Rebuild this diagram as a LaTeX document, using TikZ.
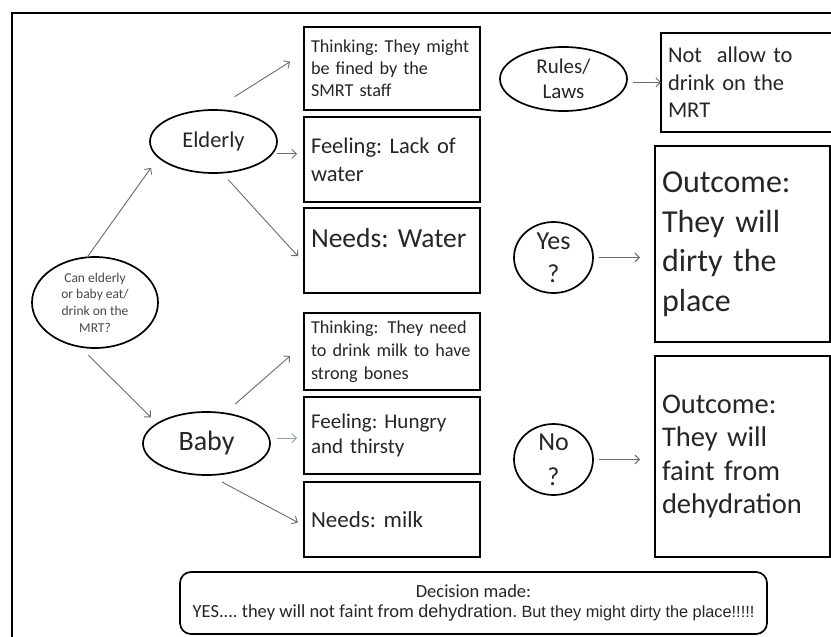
\documentclass[tikz,border=0pt]{standalone}
\usepackage{fontspec}
\setmainfont{Carlito}
\newfontfamily\arialfont{Liberation Sans}
\usetikzlibrary{arrows.meta,shapes.geometric}
\definecolor{ink}{HTML}{262626}
\definecolor{softink}{HTML}{484848}
\definecolor{wire}{HTML}{6B6B6B}
\definecolor{wireblue}{HTML}{8A9BB0}
\newcommand\fsz[2]{\fontsize{#1}{#2}\selectfont}
\frenchspacing

\begin{document}
\begin{tikzpicture}[x=1pt,y=-1pt,
  every node/.style={text=ink, outer sep=0pt},
  box/.style={draw=black, line width=1.7pt, rectangle, inner xsep=7pt, inner ysep=0pt, align=left},
  oval/.style={draw=black, line width=1.7pt, ellipse, inner sep=-14pt, align=center},
  link/.style={draw=wire, line width=0.9pt, -{Straight Barb[length=4.5pt,width=9pt]}},
]
\useasboundingbox (0,0) rectangle (831,637);
\fill[white] (0,0) rectangle (831,637);

% outer frame (left and top edges)
\draw[line width=2.2pt] (12,637) -- (12,13) -- (831,13);

% ovals
\node[oval, minimum width=126pt, minimum height=91pt, font=\fsz{13.5}{16.7}, text=softink] (q) at (95,302.5)
  {Can elderly\\or baby eat/\\drink on the\\MRT?};
\node[oval, minimum width=127pt, minimum height=63pt, font=\fsz{22.5}{26}] (eld) at (213.5,141.5) {Elderly};
\node[oval, minimum width=127pt, minimum height=63pt, font=\fsz{28}{30}] (baby) at (206.5,443.5) {Baby};
\node[oval, minimum width=127pt, minimum height=64pt, font=\fsz{21}{25.5}] (rules) at (563.5,79) {Rules/\\Laws};
\node[oval, minimum width=79pt, minimum height=71pt, font=\fsz{26}{33}] (yes) at (553.5,257.5) {Yes\\?};
\node[oval, minimum width=79pt, minimum height=71pt, font=\fsz{26}{35}] (no) at (553.5,459.5) {No\\?};

% elderly boxes
\node[box, minimum height=83pt, text width=162pt, font=\fsz{18.2}{22}] (thk1) at (392,68.5)
  {Thinking: They might\\be fined by the\\SMRT staff};
\node[box, minimum height=85pt, text width=162pt, font=\fsz{22.5}{28}] (fel1) at (392,159.5)
  {Feeling: Lack of\\water};
\node[box, minimum height=85pt, text width=162pt, text depth=26pt, font=\fsz{27.5}{33}] (need1) at (392,250.5)
  {Needs: Water};

% baby boxes
\node[box, minimum height=77pt, text width=162pt, font=\fsz{18.2}{23}] (thk2) at (392,351.5)
  {Thinking:\ \,They need\\to drink milk to have\\strong bones};
\node[box, minimum height=77pt, text width=162pt, font=\fsz{21}{25}] (fel2) at (392,435.5)
  {Feeling: Hungry\\and thirsty};
\node[box, minimum height=75pt, text width=162pt, font=\fsz{23}{27}] (need2) at (392,519.5)
  {Needs: milk};

% right column
\node[box, minimum height=99pt, text width=158pt, font=\fsz{22.5}{27.5}] (na) at (747,82.5)
  {Not\ \ allow to\\drink on the\\MRT};
\node[box, minimum height=196pt, text width=161pt, font=\fsz{32}{39.5}] (out1) at (742.5,244)
  {Outcome:\\They will\\dirty the\\place};
\node[box, minimum height=201pt, text width=161pt, font=\fsz{28.5}{33.5}] (out2) at (742.5,456.5)
  {Outcome:\\They will\\faint from\\dehydration};

% decision
\node[draw=black, line width=1.7pt, rounded corners=11pt, minimum width=587pt, minimum height=62pt,
      inner sep=0pt, align=center, font=\fsz{18.5}{20.5}] (dec) at (473.5,603)
  {Decision made:\\YES.... they will not faint from {\arialfont\fsz{18}{20.5}dehydration.} {\arialfont\fsz{16.3}{20.5}But they might dirty the place!!!!!}};

% connectors
\draw[link, shorten >=13pt] (q.100) -- (eld.196);
\draw[link, shorten <=12pt, shorten >=9pt] (q.251) -- (baby.158);
\draw[link, shorten <=25pt, shorten >=16.5pt] (eld.90) -- (thk1.170);
\draw[link, shorten <=5pt, shorten >=7pt] (eld.-12) -- (eld.-12 -| fel1.west);
\draw[link, shorten <=9.5pt, shorten >=9pt] (eld.285) -- (need1.188);
\draw[link, shorten <=14pt, shorten >=18.5pt] (baby.59) -- (thk2.175);
\draw[link, draw=wireblue, shorten <=8pt, shorten >=7pt] (baby.5) -- (baby.5 -| fel2.west);
\draw[link, shorten <=15pt, shorten >=7pt] (baby.274) -- (need2.184);
\draw[link, shorten <=6pt] (rules.-3) -- (rules.-3 -| na.west);
\draw[link, shorten <=6pt, shorten >=15pt] (yes.east) -- (yes.east -| out1.west);
\draw[link, shorten <=6pt, shorten >=15pt] (no.east) -- (no.east -| out2.west);
\end{tikzpicture}
\end{document}
